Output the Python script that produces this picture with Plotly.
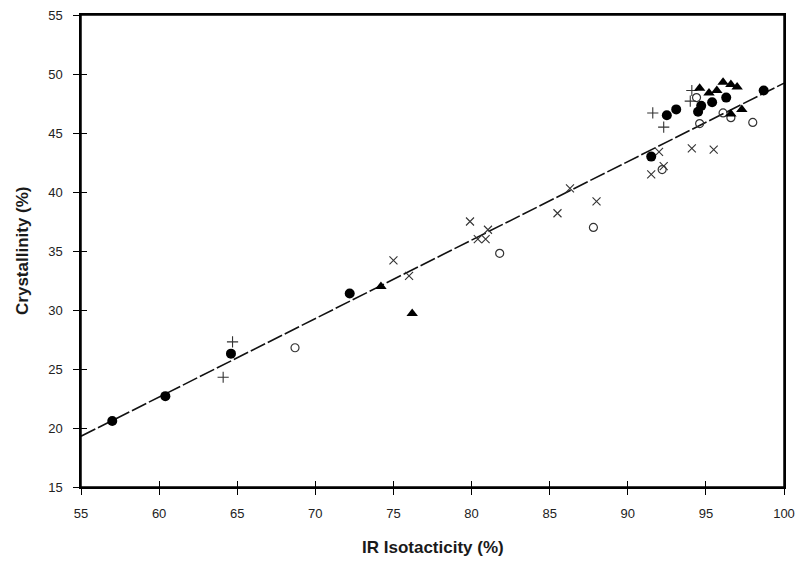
import plotly.graph_objects as go

# ---- data ----
filled_circle_x = [57.0, 60.4, 64.6, 72.2, 91.5, 92.5, 93.1, 94.5, 94.7, 95.4, 96.3, 98.7]
filled_circle_y = [20.6, 22.7, 26.3, 31.4, 43.0, 46.5, 47.0, 46.8, 47.3, 47.6, 48.0, 48.6]

open_circle_x = [68.7, 81.8, 87.8, 92.2, 94.6, 94.4, 96.1, 96.6, 98.0]
open_circle_y = [26.8, 34.8, 37.0, 41.9, 45.8, 48.0, 46.7, 46.3, 45.9]

triangle_x = [74.2, 76.2, 94.6, 95.2, 95.7, 96.1, 96.6, 97.0, 97.3, 96.6]
triangle_y = [32.0, 29.7, 48.8, 48.4, 48.6, 49.3, 49.1, 48.9, 47.0, 46.6]

plus_x = [64.7, 64.1, 91.6, 92.3, 94.1, 94.0]
plus_y = [27.3, 24.3, 46.7, 45.5, 48.6, 47.7]

cross_x = [75.0, 76.0, 79.9, 80.4, 80.9, 81.05, 85.5, 86.3, 88.0, 91.5, 92.0, 92.3, 94.1, 95.5]
cross_y = [34.2, 32.9, 37.5, 36.0, 36.0, 36.8, 38.2, 40.3, 39.2, 41.5, 43.4, 42.2, 43.7, 43.6]

fit_slope = 0.665
fit_intercept_at_55 = 19.3

x_range = [55, 100]
y_range = [15, 55]
x_ticks = [55, 60, 65, 70, 75, 80, 85, 90, 95, 100]
y_ticks = [15, 20, 25, 30, 35, 40, 45, 50, 55]

x_title = "IR Isotacticity (%)"
y_title = "Crystallinity (%)"

fit_x = list(x_range)
fit_y = [fit_intercept_at_55 + fit_slope * (v - x_range[0]) for v in fit_x]

FONT = "Liberation Sans, Arial, sans-serif"
INK = "#1a1a1a"

fig = go.Figure()

fig.add_trace(go.Scatter(x=fit_x, y=fit_y, mode="lines",
                         line=dict(color="#111", width=1.6, dash="16px,3px"),
                         showlegend=False, hoverinfo="skip"))

fig.add_trace(go.Scatter(x=cross_x, y=cross_y, mode="markers",
                         marker=dict(symbol="x-thin-open", size=8, color="#333",
                                     line=dict(color="#333", width=1.1)),
                         showlegend=False))
fig.add_trace(go.Scatter(x=plus_x, y=plus_y, mode="markers",
                         marker=dict(symbol="cross-thin-open", size=8, color="#333",
                                     line=dict(color="#333", width=1.1)),
                         showlegend=False))
fig.add_trace(go.Scatter(x=open_circle_x, y=open_circle_y, mode="markers",
                         marker=dict(symbol="circle-open", size=8, color="#333",
                                     line=dict(color="#333", width=1.2)),
                         showlegend=False))
fig.add_trace(go.Scatter(x=filled_circle_x, y=filled_circle_y, mode="markers",
                         marker=dict(symbol="circle", size=10, color="#000",
                                     line=dict(width=0)),
                         showlegend=False))
fig.add_trace(go.Scatter(x=triangle_x, y=triangle_y, mode="markers",
                         marker=dict(symbol="triangle-up", size=10, color="#000",
                                     line=dict(width=0)),
                         showlegend=False))

axis_common = dict(showgrid=False, zeroline=False, showline=True,
                   linecolor="#000", linewidth=1.5, mirror=True,
                   ticks="outside", ticklen=6, tickwidth=1.3, tickcolor="#000",
                   automargin=False, ticklabeloverflow="allow",
                   tickfont=dict(family=FONT, size=13, color="#222"))

inside_common = dict(showticklabels=False, showgrid=False, zeroline=False,
                     showline=False, ticks="inside", ticklen=6, tickwidth=1.3,
                     tickcolor="#000", automargin=False)

fig.update_layout(
    width=800, height=569,
    margin=dict(l=81, r=16, t=15, b=82, autoexpand=False),
    paper_bgcolor="white", plot_bgcolor="white",
    xaxis=dict(range=x_range, tickvals=x_ticks, ticklabelstandoff=8, **axis_common),
    yaxis=dict(range=y_range, tickvals=y_ticks, ticklabelstandoff=8, **axis_common),
    xaxis2=dict(overlaying="x", anchor="y2", side="bottom", range=x_range,
                tickvals=x_ticks, **inside_common),
    yaxis2=dict(overlaying="y", anchor="x2", side="left", range=y_range,
                tickvals=y_ticks, **inside_common),
    shapes=[dict(type="rect", xref="paper", yref="paper", x0=0, x1=1, y0=0, y1=1,
                 line=dict(color="#000", width=1.5), fillcolor="rgba(0,0,0,0)",
                 layer="above")],
    annotations=[
        dict(text="<b>" + x_title + "</b>", xref="paper", yref="paper",
             x=0.5, y=-0.129, xanchor="center", yanchor="middle",
             showarrow=False, font=dict(family=FONT, size=17, color=INK)),
        dict(text="<b>" + y_title + "</b>", xref="paper", yref="paper",
             x=-0.084, y=0.5, xanchor="center", yanchor="middle", textangle=-90,
             showarrow=False, font=dict(family=FONT, size=17, color=INK)),
    ],
)

# invisible trace that activates the secondary (inside-tick) axes
fig.add_trace(go.Scatter(x=[x_range[0]], y=[y_range[0]], xaxis="x2", yaxis="y2",
                         mode="markers", marker=dict(opacity=0),
                         showlegend=False, hoverinfo="skip"))

fig.write_html("out.html",
               config={"displayModeBar": False},
               post_script="document.body.style.margin='0';document.body.style.overflow='hidden';")
